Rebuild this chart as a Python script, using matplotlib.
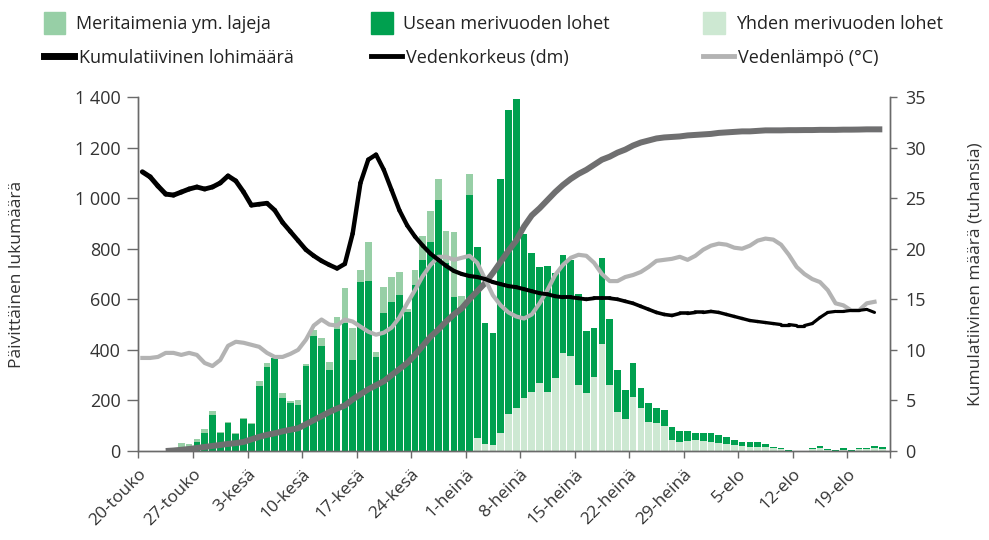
import matplotlib
matplotlib.use("Agg")
import matplotlib.pyplot as plt
import numpy as np
from matplotlib.patches import Patch
from matplotlib.lines import Line2D
from matplotlib.collections import LineCollection

plt.rcParams['font.family'] = ['Open Sans', 'DejaVu Sans']

# days counted from 20 May, one bar per day
tick_days = [0, 7, 14, 21, 28, 35, 42, 49, 56, 63, 70, 77, 84, 91]
tick_labels = ['20-touko', '27-touko', '3-kesä', '10-kesä', '17-kesä', '24-kesä', '1-heinä',
               '8-heinä', '15-heinä', '22-heinä', '29-heinä', '5-elo', '12-elo', '19-elo']

# daily counts, d0..d95
usean = [0, 0, 0, 0, 0, 8, 12, 36, 70, 141,
         70, 110, 68, 125, 108, 257, 333, 366, 208, 191,
         180, 336, 454, 415, 320, 481, 505, 358, 668, 672,
         373, 544, 590, 616, 550, 658, 755, 825, 992, 745,
         610, 565, 1012, 757, 481, 442, 1002, 1202, 1221, 652,
         553, 460, 496, 418, 388, 380, 358, 246, 191, 339,
         263, 165, 116, 134, 79, 72, 60, 63, 53, 43,
         39, 29, 32, 35, 33, 29, 19, 17, 20, 20,
         14, 7, 3, 1, 0, 0, 2, 10, 3, 1,
         5, 1, 4, 6, 11, 6]
yhden = [0] * 43 + [50, 27, 24, 72, 145, 172, 208,
         232, 267, 235, 287, 386, 375, 261, 228, 294, 425,
         261, 155, 125, 215, 169, 116, 109, 99, 43, 37,
         41, 43, 38, 37, 30, 28, 24, 20, 17, 17,
         14, 10, 7, 2, 0, 0, 8, 10, 4, 2,
         5, 2, 6, 7, 10, 8]
meri = [0, 0, 0, 0, 0, 25, 14, 13, 18, 17,
        5, 5, 2, 4, 4, 20, 16, 3, 22, 7,
        20, 10, 23, 30, 33, 47, 138, 128, 48, 155,
        19, 104, 99, 93, 10, 58, 95, 123, 84, 125,
        256, 48, 82] + [0] * 53

# right axis series, d0..d94
vedenkorkeus = [27.6, 27.1, 26.2, 25.4, 25.3, 25.6, 25.9, 26.1, 25.9, 26.1,
                26.5, 27.2, 26.7, 25.6, 24.3, 24.4, 24.5, 23.8, 22.6, 21.7,
                20.8, 19.9, 19.3, 18.8, 18.4, 18.05, 18.5, 21.5, 26.5, 28.8,
                29.3, 27.8, 25.8, 23.8, 22.3, 21.2, 20.3, 19.5, 18.9, 18.3,
                17.8, 17.5, 17.3, 17.2, 17.0, 16.7, 16.5, 16.3, 16.2, 16.0,
                15.8, 15.6, 15.5, 15.3, 15.2, 15.2, 15.1, 15.0, 15.1, 15.1,
                15.1, 15.0, 14.8, 14.6, 14.3, 14.0, 13.7, 13.5, 13.4, 13.6,
                13.6, 13.7, 13.7, 13.8, 13.7, 13.5, 13.3, 13.1, 12.9, 12.8,
                12.7, 12.6, 12.5, 12.5, 12.4, 12.4, 12.6, 13.2, 13.7, 13.8,
                13.8, 13.9, 13.9, 14.0, 13.7]
vedenlampo = [9.2, 9.2, 9.3, 9.7, 9.7, 9.5, 9.7, 9.5, 8.7, 8.4,
              9.0, 10.4, 10.8, 10.7, 10.5, 10.3, 9.7, 9.3, 9.3, 9.6,
              10.0, 11.0, 12.4, 13.0, 12.5, 12.4, 13.0, 12.8, 12.3, 11.8,
              11.5, 11.7, 12.2, 13.2, 14.6, 15.9, 17.3, 18.4, 19.2, 19.2,
              18.9, 19.1, 19.3, 18.6, 17.0, 15.4, 14.4, 13.7, 13.3, 13.1,
              13.5, 14.6, 15.9, 17.4, 18.4, 19.1, 19.4, 19.3, 18.6, 17.5,
              16.8, 16.8, 17.2, 17.4, 17.7, 18.2, 18.8, 18.9, 19.0, 19.2,
              18.9, 19.3, 19.9, 20.3, 20.5, 20.4, 20.1, 20.0, 20.3, 20.8,
              21.0, 20.9, 20.4, 19.4, 18.2, 17.5, 17.0, 16.7, 15.9, 14.6,
              14.4, 13.9, 13.9, 14.6, 14.75]
# cumulative salmon (thousands), d0..d95, starts on d3
kumulatiivinen = [np.nan, np.nan, np.nan, 0.0, 0.05, 0.12, 0.2, 0.3, 0.4, 0.5,
                  0.6, 0.7, 0.78, 0.9, 1.15, 1.4, 1.6, 1.75, 1.95, 2.1,
                  2.25, 2.65, 3.05, 3.45, 3.85, 4.2, 4.5, 5.1, 5.6, 6.1,
                  6.5, 6.9, 7.5, 8.1, 8.7, 9.5, 10.4, 11.3, 12.0, 12.8,
                  13.5, 14.1, 15.0, 15.8, 16.6, 17.6, 18.7, 19.8, 20.8, 22.2,
                  23.3, 24.0, 24.8, 25.6, 26.3, 26.9, 27.4, 27.8, 28.3, 28.8,
                  29.1, 29.5, 29.8, 30.2, 30.5, 30.7, 30.9, 31.0, 31.05, 31.1,
                  31.2, 31.25, 31.3, 31.35, 31.45, 31.5, 31.55, 31.6, 31.6, 31.65,
                  31.7, 31.7, 31.7, 31.72, 31.72, 31.73, 31.73, 31.75, 31.75, 31.75,
                  31.77, 31.77, 31.78, 31.8, 31.8, 31.8]

c_usean = '#00a04f'
c_yhden = '#cde8d2'
c_meri = '#97cfa6'
c_kum = '#6f6f70'
c_temp = '#b3b3b3'
c_axis = '#6a6a6a'
c_text = '#333333'

fig = plt.figure(figsize=(9.89, 5.4), dpi=100)
ax = fig.add_axes([0.140, 0.1648, 0.760, 0.6556])
ax2 = ax.twinx()

days = np.arange(len(usean)) + 0.5
usean = np.array(usean)
yhden = np.array(yhden)
meri = np.array(meri)
w = 0.86
ax.bar(days, yhden, width=w, color=c_yhden, linewidth=0)
ax.bar(days, usean, width=w, bottom=yhden, color=c_usean, linewidth=0)
ax.bar(days, meri, width=w, bottom=yhden + usean, color=c_meri, linewidth=0)

ax2.plot(np.arange(len(kumulatiivinen)) + 0.5, kumulatiivinen, color=c_kum, lw=4.3,
         solid_capstyle='butt')
ax2.plot(np.arange(len(vedenlampo)) + 0.5, vedenlampo, color=c_temp, lw=3.0)

# water level line gets thinner towards the end, as in the original
xk = np.arange(len(vedenkorkeus)) + 0.5
pts = np.column_stack([xk, vedenkorkeus]).reshape(-1, 1, 2)
segs = np.concatenate([pts[:-1], pts[1:]], axis=1)
widths = np.linspace(3.6, 2.2, len(segs))
ax2.add_collection(LineCollection(segs, colors='black', linewidths=widths,
                                  capstyle='round', joinstyle='round'))

ax.set_xlim(0, 96.5)
ax.set_ylim(0, 1400)
ax2.set_ylim(0, 35)
ax.set_yticks(range(0, 1401, 200))
ax.set_yticklabels([f"{v:,}".replace(",", " ") for v in range(0, 1401, 200)])
ax2.set_yticks(range(0, 36, 5))
ax.set_xticks(tick_days + [96.5])
ax.set_xticklabels(tick_labels + [''], rotation=45, ha='right', va='top',
                   rotation_mode='anchor')

for a in (ax, ax2):
    a.spines['top'].set_visible(False)
    for s in ('left', 'right', 'bottom'):
        a.spines[s].set_color(c_axis)
        a.spines[s].set_linewidth(1.0)
ax.tick_params(axis='y', direction='out', length=8, width=1, color=c_axis,
               labelsize=13, labelcolor=c_text, pad=5)
ax.tick_params(axis='x', direction='out', length=5, width=1, color=c_axis,
               labelsize=12.5, labelcolor=c_text, pad=6)
ax2.tick_params(axis='y', direction='out', length=5, width=1, color=c_axis,
                labelsize=13, labelcolor=c_text, pad=6)

ax.set_ylabel('Päivittäinen lukumäärä', fontsize=12.5, color=c_text, labelpad=36)
ax2.set_ylabel('Kumulatiivinen määrä (tuhansia)', fontsize=12.5, color=c_text, labelpad=30)

# legend: three columns, two rows
legend_items = [
    (Patch(color=c_meri), 'Meritaimenia ym. lajeja', 0.044, 0.957),
    (Patch(color=c_usean), 'Usean merivuoden lohet', 0.375, 0.957),
    (Patch(color=c_yhden), 'Yhden merivuoden lohet', 0.711, 0.957),
    (Line2D([], [], color='black', lw=5), 'Kumulatiivinen lohimäärä', 0.044, 0.893),
    (Line2D([], [], color='black', lw=3.5), 'Vedenkorkeus (dm)', 0.375, 0.893),
    (Line2D([], [], color=c_temp, lw=3.5), 'Vedenlämpö (°C)', 0.711, 0.893),
]
for i, (h, label, x, y) in enumerate(legend_items):
    is_patch = i < 3
    fig.legend([h], [label], loc='center left', bbox_to_anchor=(x, y), frameon=False,
               fontsize=13, handlelength=1.2 if is_patch else 1.7,
               handleheight=1.5 if is_patch else 0.7, handletextpad=0.6 if is_patch else 0.25,
               borderpad=0, borderaxespad=0, labelcolor='#222222')

fig.savefig('out.png', dpi=100)
